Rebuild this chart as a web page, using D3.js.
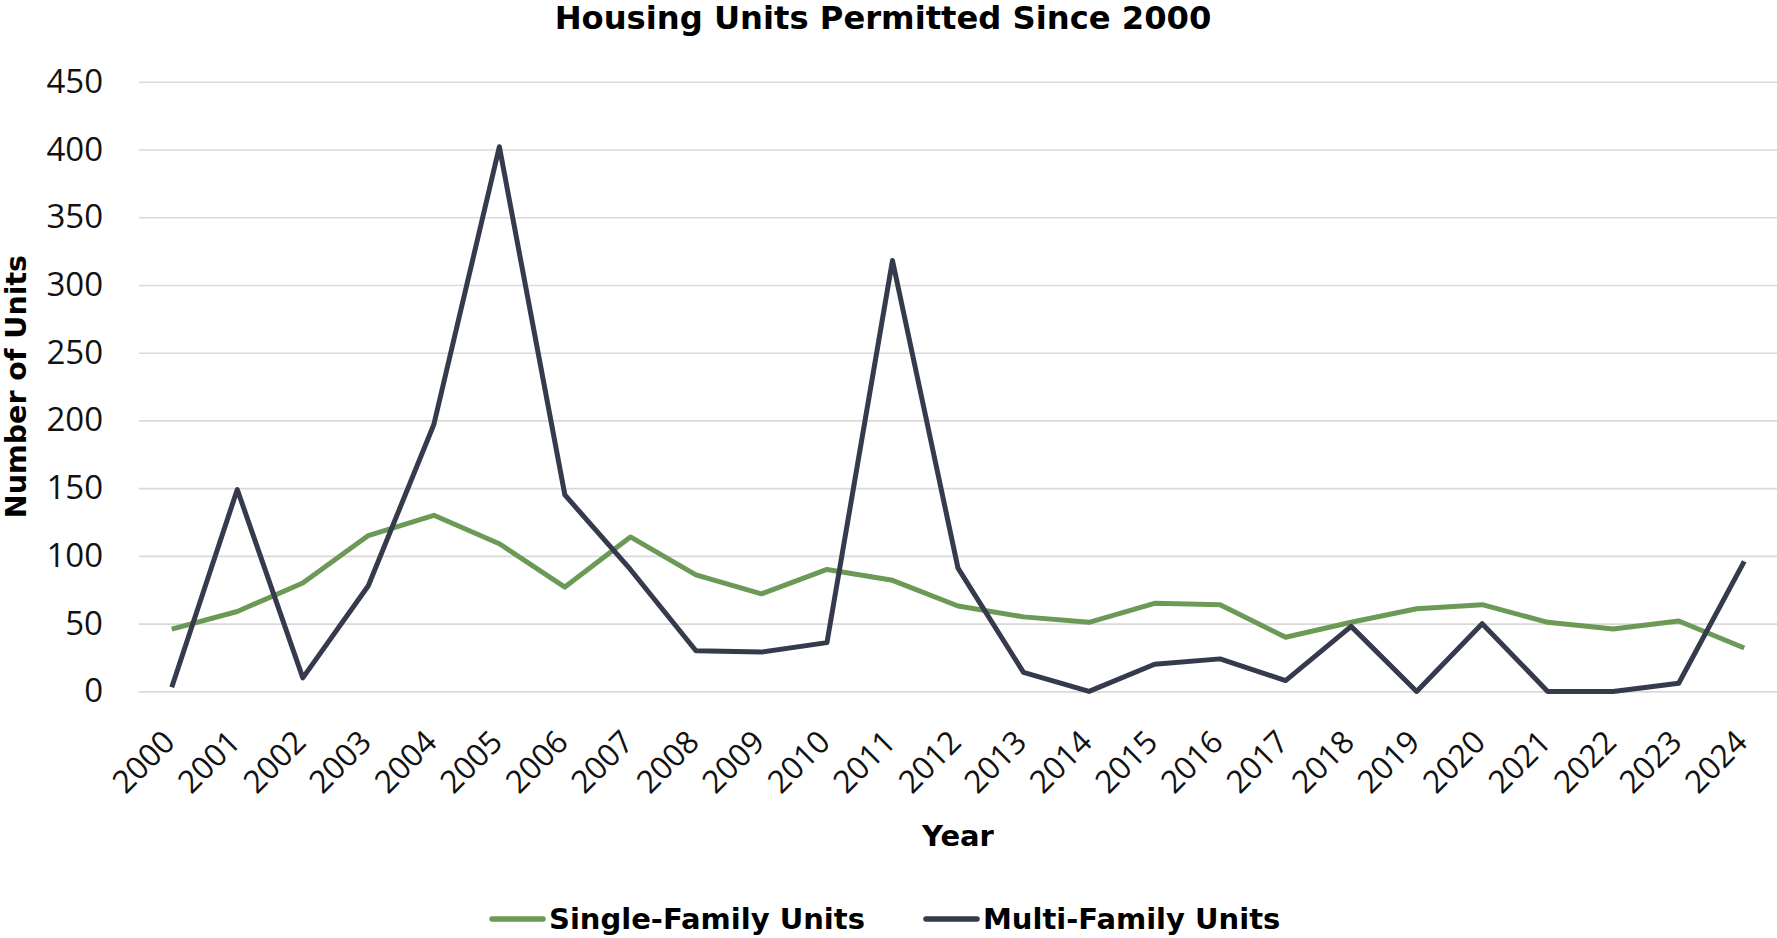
<!DOCTYPE html>
<html lang="en">
<head>
<meta charset="UTF-8">
<title>Housing Units Permitted Since 2000</title>
<script src="https://d3js.org/d3.v7.min.js"></script>
<style>
  body { margin: 0; background: #fff; }
</style>
</head>
<body>
<script>
    // data
    const years = ["2000", "2001", "2002", "2003", "2004", "2005", "2006", "2007", "2008", "2009",
                   "2010", "2011", "2012", "2013", "2014", "2015", "2016", "2017", "2018", "2019",
                   "2020", "2021", "2022", "2023", "2024"];
    const singleFamily = [46, 59, 80, 115, 130, 109, 77, 114, 86, 72, 90, 82, 63, 55, 51, 65, 64, 40, 51, 61, 64, 51, 46, 52, 32];
    const multiFamily = [3, 149, 10, 78, 197, 402, 145, 90, 30, 29, 36, 318, 91, 14, 0, 20, 24, 8, 48, 0, 50, 0, 0, 6, 96];
    const yTicks = [0, 50, 100, 150, 200, 250, 300, 350, 400, 450];
    const seriesNames = ["Single-Family Units", "Multi-Family Units"];
    const seriesColors = ["#6b9a57", "#353a4c"];

    const W = 1777, H = 938;
    const margin = { top: 81.7, right: 0, bottom: 246.6, left: 139 };
    const width = W - margin.left - margin.right;
    const height = H - margin.top - margin.bottom;

    const boldFont = "'DejaVu Sans', sans-serif";
    const tickFont = "'Open Sans', sans-serif";

    const svg = d3.select("body")
        .append("svg")
            .attr("width", W)
            .attr("height", H);

    const x = d3.scalePoint()
        .domain(years)
        .range([margin.left, margin.left + width])
        .padding(0.5);

    const y = d3.scaleLinear()
        .domain([0, 450])
        .range([margin.top + height, margin.top]);

    // gridlines + y labels
    const yAxis = svg.append("g")
        .attr("transform", `translate(${margin.left},0)`)
        .call(d3.axisLeft(y).tickValues(yTicks).tickSize(-width).tickPadding(36));
    yAxis.select(".domain").remove();
    yAxis.selectAll(".tick line")
        .attr("stroke", "#d9d9d9")
        .attr("stroke-width", 1.6);
    yAxis.selectAll(".tick text")
        .attr("font-family", tickFont)
        .attr("font-size", 33)
        .attr("fill", "#111");

    // x labels, rotated
    svg.append("g")
        .selectAll("text")
        .data(years)
        .join("text")
            .attr("transform", d => `translate(${x(d) + 5},744) rotate(-45)`)
            .attr("text-anchor", "end")
            .attr("font-family", tickFont)
            .attr("font-size", 31.5)
            .attr("fill", "#111")
            .text(d => d);

    const line = d3.line()
        .x((d, i) => x(years[i]))
        .y(d => y(d));

    [singleFamily, multiFamily].forEach((vals, k) => {
        svg.append("path")
            .datum(vals)
            .attr("fill", "none")
            .attr("stroke", seriesColors[k])
            .attr("stroke-width", 5)
            .attr("stroke-linejoin", "round")
            .attr("d", line);
    });

    // titles
    svg.append("text")
        .attr("x", 883)
        .attr("y", 28.5)
        .attr("text-anchor", "middle")
        .attr("font-family", boldFont)
        .attr("font-weight", "bold")
        .attr("font-size", 32.2)
        .attr("fill", "#000")
        .text("Housing Units Permitted Since 2000");

    svg.append("text")
        .attr("x", margin.left + width / 2)
        .attr("y", 846)
        .attr("text-anchor", "middle")
        .attr("font-family", boldFont)
        .attr("font-weight", "bold")
        .attr("font-size", 29)
        .attr("fill", "#000")
        .text("Year");

    svg.append("text")
        .attr("transform", `translate(26,${margin.top + height / 2}) rotate(-90)`)
        .attr("text-anchor", "middle")
        .attr("font-family", boldFont)
        .attr("font-weight", "bold")
        .attr("font-size", 28.5)
        .attr("fill", "#000")
        .text("Number of Units");

    // legend
    const legendX = [490, 924];
    const legend = svg.append("g")
        .selectAll("g")
        .data(seriesNames)
        .join("g")
            .attr("transform", (d, i) => `translate(${legendX[i]},919)`);
    legend.append("line")
        .attr("x1", 2).attr("x2", 53)
        .attr("stroke", (d, i) => seriesColors[i])
        .attr("stroke-width", 5.5)
        .attr("stroke-linecap", "round");
    legend.append("text")
        .attr("x", 59)
        .attr("y", 10)
        .attr("font-family", boldFont)
        .attr("font-weight", "bold")
        .attr("font-size", 29)
        .attr("fill", "#000")
        .text(d => d);
</script>
</body>
</html>
